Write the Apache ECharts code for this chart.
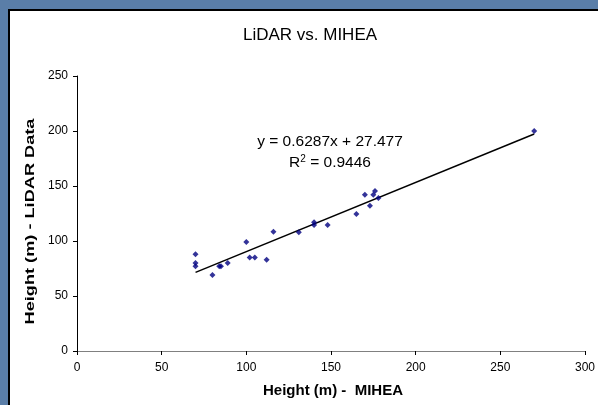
<!DOCTYPE html>
<html><head><meta charset="utf-8">
<script src="https://cdn.jsdelivr.net/npm/echarts@6/dist/echarts.min.js"></script>
<style>html,body{margin:0;padding:0;background:#5a7ea8;}#c{width:598px;height:405px;}</style>
</head><body><div id="c"></div>
<script>
var mihea = [70, 70, 70, 80, 84, 85, 89, 100, 102, 105, 112, 116, 131, 140, 140, 148, 165, 170, 173, 175, 176, 178, 270];
var lidar = [88, 80, 77, 69, 77, 77, 80, 99, 85, 85, 83, 108.5, 108, 117, 114.5, 114.5, 124.5, 142, 132, 142, 145.5, 139, 200];
var slope = 0.6287, intercept = 27.477;
var trendX = [70, 270];
var xTicks = [0, 50, 100, 150, 200, 250, 300];
var yTicks = [0, 50, 100, 150, 200, 250];

var pts = mihea.map(function (v, i) { return [v, lidar[i]]; });
var trend = trendX.map(function (x) { return [x, slope * x + intercept]; });
var FF = '"Liberation Sans", Arial, sans-serif';

var chart = echarts.init(document.getElementById('c'));
chart.setOption({
  backgroundColor: '#5a7ea8',
  animation: false,
  textStyle: { fontFamily: FF },
  graphic: [
    { type: 'rect', z: -10, shape: { x: 9, y: 10, width: 600, height: 400 },
      style: { fill: '#ffffff', stroke: '#000000', lineWidth: 2 } },
    { type: 'text', z: 10, x: 310, y: 35, style: { text: 'LiDAR vs. MIHEA', fill: '#000', font: '17px ' + FF, textAlign: 'center', textVerticalAlign: 'middle' } },
    { type: 'text', z: 10, x: 330, y: 142, style: { text: 'y = 0.6287x + 27.477', fill: '#000', font: '15.5px ' + FF, textAlign: 'center', textVerticalAlign: 'middle' } },
    { type: 'text', z: 10, x: 330, y: 163, style: { rich: { n: { fontSize: 15.5, fontFamily: FF }, s: { fontSize: 10, fontFamily: FF, verticalAlign: 'top', padding: [0, 0, 7, 0] } }, text: '{n|R}{s|2}{n| = 0.9446}', fill: '#000', textAlign: 'center', textVerticalAlign: 'middle' } },
    { type: 'text', z: 10, x: 333, y: 391, style: { text: 'Height (m) -  MIHEA', fill: '#000', font: 'bold 15px ' + FF, textAlign: 'center', textVerticalAlign: 'middle' } },
    { type: 'text', z: 10, x: 30, y: 221.5, rotation: Math.PI / 2, scaleX: 1.42, scaleY: 1, style: { text: 'Height (m) - LiDAR Data', fill: '#000', font: 'bold 12.8px ' + FF, textAlign: 'center', textVerticalAlign: 'middle' } }
  ],
  grid: { left: 77, right: 8, top: 76, bottom: 54 },
  xAxis: {
    type: 'value', min: 0, max: 300, interval: 50,
    axisLine: { show: true, lineStyle: { color: '#808080', width: 1 } },
    axisTick: { show: true, length: 4, lineStyle: { color: '#000' } },
    axisLabel: { color: '#000', fontSize: 12, margin: 11, formatter: function (v) { return xTicks.indexOf(v) >= 0 ? String(v) : ''; } },
    splitLine: { show: false }
  },
  yAxis: {
    type: 'value', min: 0, max: 250, interval: 50,
    axisLine: { show: true, lineStyle: { color: '#000', width: 1 } },
    axisTick: { show: true, length: 4, lineStyle: { color: '#000' } },
    axisLabel: { color: '#000', fontSize: 12, margin: 9, formatter: function (v) { return yTicks.indexOf(v) >= 0 ? String(v) : ''; } },
    splitLine: { show: false }
  },
  series: [
    { type: 'line', data: trend, showSymbol: false, symbol: 'none', lineStyle: { color: '#000', width: 1.5 }, z: 2 },
    { type: 'scatter', data: pts, symbol: 'diamond', symbolSize: 6, itemStyle: { color: '#000080' }, z: 3 }
  ]
});
</script></body></html>
